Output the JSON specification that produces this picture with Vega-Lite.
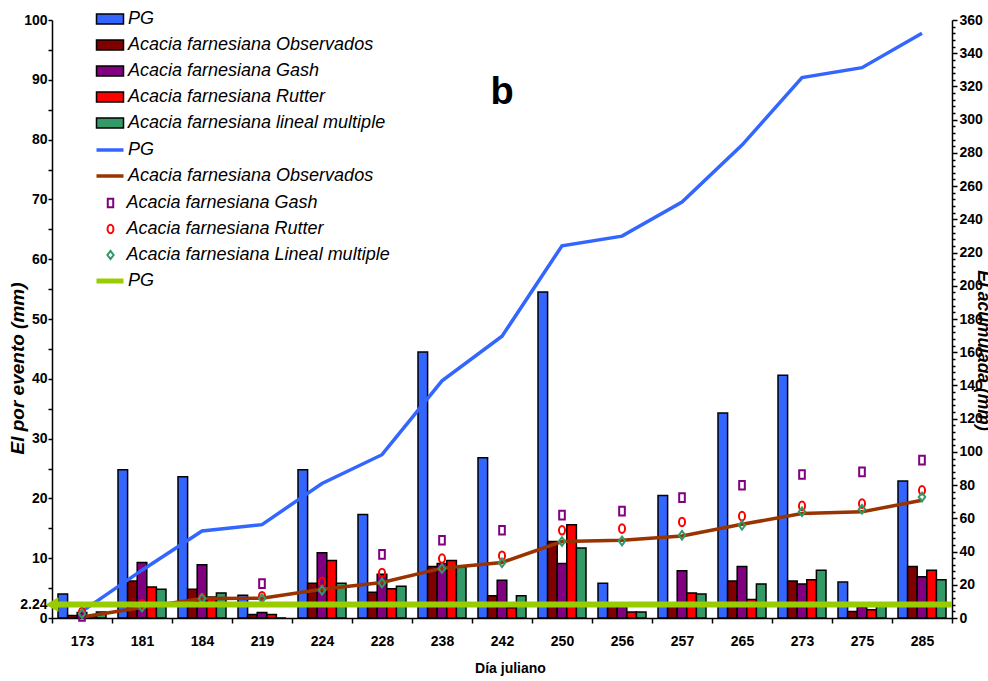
{
  "$schema": "https://vega.github.io/schema/vega-lite/v6.json",
  "width": 900,
  "height": 598,
  "autosize": {"type": "none"},
  "padding": {"left": 52, "top": 20, "right": 36, "bottom": 63},
  "background": "white",
  "config": {
    "font": "Liberation Sans",
    "view": {"stroke": null},
    "axis": {
      "grid": false,
      "labelFont": "Liberation Sans",
      "labelFontSize": 14,
      "labelFontWeight": "bold",
      "labelColor": "black",
      "domainColor": "black",
      "domainWidth": 1.5,
      "tickColor": "black",
      "tickWidth": 1.5,
      "titleFont": "Liberation Sans",
      "titleColor": "black"
    },
    "legend": {
      "orient": "none",
      "title": null,
      "padding": 0,
      "labelFont": "Liberation Sans",
      "labelFontSize": 18,
      "labelFontStyle": "italic",
      "labelColor": "black",
      "labelLimit": 500,
      "rowPadding": 8,
      "symbolOpacity": 1
    }
  },
  "title": {
    "text": "b",
    "font": "Liberation Sans",
    "fontSize": 38,
    "fontWeight": "bold",
    "color": "black",
    "anchor": "middle",
    "dy": 106
  },
  "datasets": {
    "barras": [
      {"dia": "173", "serie": "PG", "valor": 4.0},
      {"dia": "173", "serie": "Acacia farnesiana Observados", "valor": 0.4},
      {"dia": "173", "serie": "Acacia farnesiana Gash", "valor": 0.9},
      {"dia": "173", "serie": "Acacia farnesiana Rutter", "valor": 0.3},
      {"dia": "173", "serie": "Acacia farnesiana lineal multiple", "valor": 1.0},
      {"dia": "181", "serie": "PG", "valor": 24.8},
      {"dia": "181", "serie": "Acacia farnesiana Observados", "valor": 6.2},
      {"dia": "181", "serie": "Acacia farnesiana Gash", "valor": 9.3},
      {"dia": "181", "serie": "Acacia farnesiana Rutter", "valor": 5.2},
      {"dia": "181", "serie": "Acacia farnesiana lineal multiple", "valor": 4.8},
      {"dia": "184", "serie": "PG", "valor": 23.6},
      {"dia": "184", "serie": "Acacia farnesiana Observados", "valor": 4.8},
      {"dia": "184", "serie": "Acacia farnesiana Gash", "valor": 8.9},
      {"dia": "184", "serie": "Acacia farnesiana Rutter", "valor": 3.5},
      {"dia": "184", "serie": "Acacia farnesiana lineal multiple", "valor": 4.2},
      {"dia": "219", "serie": "PG", "valor": 3.8},
      {"dia": "219", "serie": "Acacia farnesiana Observados", "valor": 0.6},
      {"dia": "219", "serie": "Acacia farnesiana Gash", "valor": 0.9},
      {"dia": "219", "serie": "Acacia farnesiana Rutter", "valor": 0.6},
      {"dia": "219", "serie": "Acacia farnesiana lineal multiple", "valor": 0.0},
      {"dia": "224", "serie": "PG", "valor": 24.8},
      {"dia": "224", "serie": "Acacia farnesiana Observados", "valor": 5.8},
      {"dia": "224", "serie": "Acacia farnesiana Gash", "valor": 10.9},
      {"dia": "224", "serie": "Acacia farnesiana Rutter", "valor": 9.6},
      {"dia": "224", "serie": "Acacia farnesiana lineal multiple", "valor": 5.8},
      {"dia": "228", "serie": "PG", "valor": 17.3},
      {"dia": "228", "serie": "Acacia farnesiana Observados", "valor": 4.3},
      {"dia": "228", "serie": "Acacia farnesiana Gash", "valor": 7.3},
      {"dia": "228", "serie": "Acacia farnesiana Rutter", "valor": 4.9},
      {"dia": "228", "serie": "Acacia farnesiana lineal multiple", "valor": 5.3},
      {"dia": "238", "serie": "PG", "valor": 44.5},
      {"dia": "238", "serie": "Acacia farnesiana Observados", "valor": 8.6},
      {"dia": "238", "serie": "Acacia farnesiana Gash", "valor": 9.1},
      {"dia": "238", "serie": "Acacia farnesiana Rutter", "valor": 9.6},
      {"dia": "238", "serie": "Acacia farnesiana lineal multiple", "valor": 8.5},
      {"dia": "242", "serie": "PG", "valor": 26.8},
      {"dia": "242", "serie": "Acacia farnesiana Observados", "valor": 3.7},
      {"dia": "242", "serie": "Acacia farnesiana Gash", "valor": 6.3},
      {"dia": "242", "serie": "Acacia farnesiana Rutter", "valor": 1.7},
      {"dia": "242", "serie": "Acacia farnesiana lineal multiple", "valor": 3.7},
      {"dia": "250", "serie": "PG", "valor": 54.5},
      {"dia": "250", "serie": "Acacia farnesiana Observados", "valor": 12.8},
      {"dia": "250", "serie": "Acacia farnesiana Gash", "valor": 9.1},
      {"dia": "250", "serie": "Acacia farnesiana Rutter", "valor": 15.6},
      {"dia": "250", "serie": "Acacia farnesiana lineal multiple", "valor": 11.7},
      {"dia": "256", "serie": "PG", "valor": 5.8},
      {"dia": "256", "serie": "Acacia farnesiana Observados", "valor": 2.0},
      {"dia": "256", "serie": "Acacia farnesiana Gash", "valor": 2.3},
      {"dia": "256", "serie": "Acacia farnesiana Rutter", "valor": 1.0},
      {"dia": "256", "serie": "Acacia farnesiana lineal multiple", "valor": 1.0},
      {"dia": "257", "serie": "PG", "valor": 20.5},
      {"dia": "257", "serie": "Acacia farnesiana Observados", "valor": 2.2},
      {"dia": "257", "serie": "Acacia farnesiana Gash", "valor": 7.9},
      {"dia": "257", "serie": "Acacia farnesiana Rutter", "valor": 4.2},
      {"dia": "257", "serie": "Acacia farnesiana lineal multiple", "valor": 4.0},
      {"dia": "265", "serie": "PG", "valor": 34.3},
      {"dia": "265", "serie": "Acacia farnesiana Observados", "valor": 6.2},
      {"dia": "265", "serie": "Acacia farnesiana Gash", "valor": 8.6},
      {"dia": "265", "serie": "Acacia farnesiana Rutter", "valor": 3.1},
      {"dia": "265", "serie": "Acacia farnesiana lineal multiple", "valor": 5.7},
      {"dia": "273", "serie": "PG", "valor": 40.6},
      {"dia": "273", "serie": "Acacia farnesiana Observados", "valor": 6.2},
      {"dia": "273", "serie": "Acacia farnesiana Gash", "valor": 5.7},
      {"dia": "273", "serie": "Acacia farnesiana Rutter", "valor": 6.4},
      {"dia": "273", "serie": "Acacia farnesiana lineal multiple", "valor": 8.0},
      {"dia": "275", "serie": "PG", "valor": 6.0},
      {"dia": "275", "serie": "Acacia farnesiana Observados", "valor": 1.1},
      {"dia": "275", "serie": "Acacia farnesiana Gash", "valor": 1.8},
      {"dia": "275", "serie": "Acacia farnesiana Rutter", "valor": 1.4},
      {"dia": "275", "serie": "Acacia farnesiana lineal multiple", "valor": 2.0},
      {"dia": "285", "serie": "PG", "valor": 22.9},
      {"dia": "285", "serie": "Acacia farnesiana Observados", "valor": 8.6},
      {"dia": "285", "serie": "Acacia farnesiana Gash", "valor": 6.9},
      {"dia": "285", "serie": "Acacia farnesiana Rutter", "valor": 8.0},
      {"dia": "285", "serie": "Acacia farnesiana lineal multiple", "valor": 6.4}
    ],
    "lineas": [
      {"dia": "173", "serie": "PG", "acum": 4.0},
      {"dia": "181", "serie": "PG", "acum": 28.8},
      {"dia": "184", "serie": "PG", "acum": 52.4},
      {"dia": "219", "serie": "PG", "acum": 56.2},
      {"dia": "224", "serie": "PG", "acum": 81.0},
      {"dia": "228", "serie": "PG", "acum": 98.3},
      {"dia": "238", "serie": "PG", "acum": 142.8},
      {"dia": "242", "serie": "PG", "acum": 169.6},
      {"dia": "250", "serie": "PG", "acum": 224.1},
      {"dia": "256", "serie": "PG", "acum": 229.9},
      {"dia": "257", "serie": "PG", "acum": 250.4},
      {"dia": "265", "serie": "PG", "acum": 284.7},
      {"dia": "273", "serie": "PG", "acum": 325.3},
      {"dia": "275", "serie": "PG", "acum": 331.3},
      {"dia": "285", "serie": "PG", "acum": 352.0},
      {"dia": "173", "serie": "Acacia farnesiana Observados", "acum": 0.6},
      {"dia": "181", "serie": "Acacia farnesiana Observados", "acum": 6.3},
      {"dia": "184", "serie": "Acacia farnesiana Observados", "acum": 11.7},
      {"dia": "219", "serie": "Acacia farnesiana Observados", "acum": 11.9},
      {"dia": "224", "serie": "Acacia farnesiana Observados", "acum": 17.3},
      {"dia": "228", "serie": "Acacia farnesiana Observados", "acum": 21.4},
      {"dia": "238", "serie": "Acacia farnesiana Observados", "acum": 30.0},
      {"dia": "242", "serie": "Acacia farnesiana Observados", "acum": 33.4},
      {"dia": "250", "serie": "Acacia farnesiana Observados", "acum": 46.0},
      {"dia": "256", "serie": "Acacia farnesiana Observados", "acum": 46.8},
      {"dia": "257", "serie": "Acacia farnesiana Observados", "acum": 49.4},
      {"dia": "265", "serie": "Acacia farnesiana Observados", "acum": 56.4},
      {"dia": "273", "serie": "Acacia farnesiana Observados", "acum": 62.9},
      {"dia": "275", "serie": "Acacia farnesiana Observados", "acum": 63.9},
      {"dia": "285", "serie": "Acacia farnesiana Observados", "acum": 70.9}
    ],
    "puntos": [
      {"dia": "173", "serie": "Acacia farnesiana Gash", "acum": 0.9},
      {"dia": "181", "serie": "Acacia farnesiana Gash", "acum": 10.2},
      {"dia": "184", "serie": "Acacia farnesiana Gash", "acum": 19.1},
      {"dia": "219", "serie": "Acacia farnesiana Gash", "acum": 20.7},
      {"dia": "224", "serie": "Acacia farnesiana Gash", "acum": 31.6},
      {"dia": "228", "serie": "Acacia farnesiana Gash", "acum": 38.3},
      {"dia": "238", "serie": "Acacia farnesiana Gash", "acum": 46.8},
      {"dia": "242", "serie": "Acacia farnesiana Gash", "acum": 52.8},
      {"dia": "250", "serie": "Acacia farnesiana Gash", "acum": 61.9},
      {"dia": "256", "serie": "Acacia farnesiana Gash", "acum": 64.3},
      {"dia": "257", "serie": "Acacia farnesiana Gash", "acum": 72.5},
      {"dia": "265", "serie": "Acacia farnesiana Gash", "acum": 79.9},
      {"dia": "273", "serie": "Acacia farnesiana Gash", "acum": 86.4},
      {"dia": "275", "serie": "Acacia farnesiana Gash", "acum": 88.0},
      {"dia": "285", "serie": "Acacia farnesiana Gash", "acum": 95.0},
      {"dia": "173", "serie": "Acacia farnesiana Rutter", "acum": 3.6},
      {"dia": "181", "serie": "Acacia farnesiana Rutter", "acum": 8.3},
      {"dia": "184", "serie": "Acacia farnesiana Rutter", "acum": 11.9},
      {"dia": "219", "serie": "Acacia farnesiana Rutter", "acum": 13.1},
      {"dia": "224", "serie": "Acacia farnesiana Rutter", "acum": 21.7},
      {"dia": "228", "serie": "Acacia farnesiana Rutter", "acum": 27.1},
      {"dia": "238", "serie": "Acacia farnesiana Rutter", "acum": 35.8},
      {"dia": "242", "serie": "Acacia farnesiana Rutter", "acum": 37.5},
      {"dia": "250", "serie": "Acacia farnesiana Rutter", "acum": 52.8},
      {"dia": "256", "serie": "Acacia farnesiana Rutter", "acum": 53.8},
      {"dia": "257", "serie": "Acacia farnesiana Rutter", "acum": 57.8},
      {"dia": "265", "serie": "Acacia farnesiana Rutter", "acum": 61.3},
      {"dia": "273", "serie": "Acacia farnesiana Rutter", "acum": 67.5},
      {"dia": "275", "serie": "Acacia farnesiana Rutter", "acum": 68.9},
      {"dia": "285", "serie": "Acacia farnesiana Rutter", "acum": 76.9},
      {"dia": "173", "serie": "Acacia farnesiana Lineal multiple", "acum": 2.6},
      {"dia": "181", "serie": "Acacia farnesiana Lineal multiple", "acum": 6.6},
      {"dia": "184", "serie": "Acacia farnesiana Lineal multiple", "acum": 11.7},
      {"dia": "219", "serie": "Acacia farnesiana Lineal multiple", "acum": 11.7},
      {"dia": "224", "serie": "Acacia farnesiana Lineal multiple", "acum": 16.7},
      {"dia": "228", "serie": "Acacia farnesiana Lineal multiple", "acum": 21.1},
      {"dia": "238", "serie": "Acacia farnesiana Lineal multiple", "acum": 29.8},
      {"dia": "242", "serie": "Acacia farnesiana Lineal multiple", "acum": 33.2},
      {"dia": "250", "serie": "Acacia farnesiana Lineal multiple", "acum": 46.0},
      {"dia": "256", "serie": "Acacia farnesiana Lineal multiple", "acum": 46.4},
      {"dia": "257", "serie": "Acacia farnesiana Lineal multiple", "acum": 49.8},
      {"dia": "265", "serie": "Acacia farnesiana Lineal multiple", "acum": 55.8},
      {"dia": "273", "serie": "Acacia farnesiana Lineal multiple", "acum": 63.9},
      {"dia": "275", "serie": "Acacia farnesiana Lineal multiple", "acum": 65.5},
      {"dia": "285", "serie": "Acacia farnesiana Lineal multiple", "acum": 72.9}
    ],
    "umbral": [
      {"dia": "173", "serie": "PG", "umbral": 2.24}
    ]
  },
  "layer": [
    {
      "data": {"name": "barras"},
      "mark": {"type": "bar", "stroke": "black", "strokeWidth": 1.5},
      "encoding": {
        "x": {
          "field": "dia",
          "type": "nominal",
          "sort": ["173", "181", "184", "219", "224", "228", "238", "242", "250", "256", "257", "265", "273", "275", "285"],
          "scale": {"paddingInner": 0, "paddingOuter": 0},
          "axis": {
            "title": "Día juliano",
            "titleFontSize": 14,
            "titleFontWeight": "bold",
            "titleX": 458,
            "titleY": 50,
            "titleBaseline": "middle",
            "labelAngle": 0,
            "tickBand": "extent",
            "tickSize": 5,
            "labelPadding": 11
          }
        },
        "xOffset": {
          "field": "serie",
          "type": "nominal",
          "sort": ["PG", "Acacia farnesiana Observados", "Acacia farnesiana Gash", "Acacia farnesiana Rutter", "Acacia farnesiana lineal multiple"],
          "scale": {"paddingInner": 0, "paddingOuter": 0.625}
        },
        "y": {
          "field": "valor",
          "type": "quantitative",
          "scale": {"domain": [0, 100], "nice": false},
          "axis": {
            "orient": "left",
            "title": "El por evento (mm)",
            "titleFontSize": 19,
            "titleFontWeight": "bold",
            "titleFontStyle": "italic",
            "titleX": -35,
            "titleY": 348,
            "titleBaseline": "middle",
            "values": [0, 2.24, 5, 10, 15, 20, 25, 30, 35, 40, 45, 50, 55, 60, 65, 70, 75, 80, 85, 90, 95, 100],
            "labelExpr": "datum.value % 10 == 0 || datum.value == 2.24 ? format(datum.value, '~g') : ''",
            "labelOverlap": false,
            "labelPadding": 1,
            "tickSize": 4
          }
        },
        "fill": {
          "field": "serie",
          "type": "nominal",
          "scale": {
            "domain": ["PG", "Acacia farnesiana Observados", "Acacia farnesiana Gash", "Acacia farnesiana Rutter", "Acacia farnesiana lineal multiple"],
            "range": ["#3366ff", "#800000", "#800080", "#ff0000", "#339966"]
          },
          "legend": {
            "legendX": 49,
            "legendY": -10,
            "labelOffset": 9,
            "symbolType": "M-2.7,-1H2.7V1H-2.7Z",
            "symbolSize": 100,
            "symbolStrokeColor": "black",
            "symbolStrokeWidth": 1.5
          }
        }
      }
    },
    {
      "encoding": {
        "x": {
          "field": "dia",
          "type": "nominal",
          "sort": ["173", "181", "184", "219", "224", "228", "238", "242", "250", "256", "257", "265", "273", "275", "285"]
        },
        "y": {
          "field": "acum",
          "type": "quantitative",
          "scale": {"domain": [0, 360], "nice": false},
          "axis": {
            "orient": "right",
            "title": "El acumulada (mm)",
            "titleFontSize": 17.5,
            "titleFontWeight": "bold",
            "titleFontStyle": "italic",
            "titleAngle": 90,
            "titleX": 30,
            "titleY": 330,
            "titleBaseline": "middle",
            "values": [0, 4, 8, 12, 16, 20, 24, 28, 32, 36, 40, 44, 48, 52, 56, 60, 64, 68, 72, 76, 80, 84, 88, 92, 96, 100, 104, 108, 112, 116, 120, 124, 128, 132, 136, 140, 144, 148, 152, 156, 160, 164, 168, 172, 176, 180, 184, 188, 192, 196, 200, 204, 208, 212, 216, 220, 224, 228, 232, 236, 240, 244, 248, 252, 256, 260, 264, 268, 272, 276, 280, 284, 288, 292, 296, 300, 304, 308, 312, 316, 320, 324, 328, 332, 336, 340, 344, 348, 352, 356, 360],
            "labelExpr": "datum.value % 20 == 0 ? datum.label : ''",
            "labelOverlap": false,
            "labelPadding": 2,
            "tickSize": {"condition": {"test": "datum.value % 20 == 0", "value": 5}, "value": 3}
          }
        }
      },
      "layer": [
        {
          "data": {"name": "lineas"},
          "mark": {"type": "line", "strokeWidth": 3.5},
          "encoding": {
            "stroke": {
              "field": "serie",
              "type": "nominal",
              "scale": {
                "domain": ["PG", "Acacia farnesiana Observados"],
                "range": ["#3366ff", "#993300"]
              },
              "legend": {
                "legendX": 49,
                "legendY": 121,
                "labelOffset": 9,
                "symbolType": "M-2.7,0H2.7",
                "symbolSize": 100,
                "symbolStrokeWidth": 3.5
              }
            }
          }
        },
        {
          "data": {"name": "puntos"},
          "mark": {"type": "point", "filled": false, "strokeWidth": 2, "size": 75, "opacity": 1},
          "encoding": {
            "color": {
              "field": "serie",
              "type": "nominal",
              "scale": {
                "domain": ["Acacia farnesiana Gash", "Acacia farnesiana Rutter", "Acacia farnesiana Lineal multiple"],
                "range": ["#800080", "#ff0000", "#339966"]
              },
              "legend": {
                "legendX": 49.5,
                "legendY": 174,
                "labelOffset": 7,
                "symbolSize": 70,
                "symbolStrokeWidth": 2,
                "symbolFillColor": "transparent"
              }
            },
            "shape": {
              "field": "serie",
              "type": "nominal",
              "scale": {
                "domain": ["Acacia farnesiana Gash", "Acacia farnesiana Rutter", "Acacia farnesiana Lineal multiple"],
                "range": ["M-0.65,-1H0.65V1H-0.65Z", "M0,-1A0.7,1 0 1,1 0,1A0.7,1 0 1,1 0,-1Z", "M0,-1L0.75,0L0,1L-0.75,0Z"]
              },
              "legend": {
                "legendX": 49.5,
                "legendY": 174,
                "labelOffset": 7,
                "symbolSize": 70,
                "symbolStrokeWidth": 2,
                "symbolFillColor": "transparent"
              }
            }
          }
        }
      ]
    },
    {
      "data": {"name": "umbral"},
      "layer": [
        {
          "mark": {"type": "rule", "strokeWidth": 6, "color": "#99cc00"},
          "encoding": {
            "y": {"field": "umbral", "type": "quantitative", "scale": {"domain": [0, 100], "nice": false}, "axis": null},
            "strokeDash": {
              "field": "serie",
              "type": "nominal",
              "scale": {"domain": ["PG"], "range": [[1, 0]]},
              "legend": {
                "legendX": 49,
                "legendY": 252,
                "labelOffset": 9,
                "symbolType": "M-2.7,0H2.7",
                "symbolSize": 100,
                "symbolStrokeColor": "#99cc00",
                "symbolStrokeWidth": 5
              }
            }
          }
        },
        {
          "mark": {"type": "point", "shape": "triangle-left", "filled": true, "size": 220, "color": "#99cc00", "opacity": 1},
          "encoding": {
            "x": {"field": "dia", "type": "nominal", "bandPosition": 0},
            "y": {"field": "umbral", "type": "quantitative"}
          }
        }
      ]
    }
  ],
  "resolve": {"scale": {"y": "independent"}}
}
